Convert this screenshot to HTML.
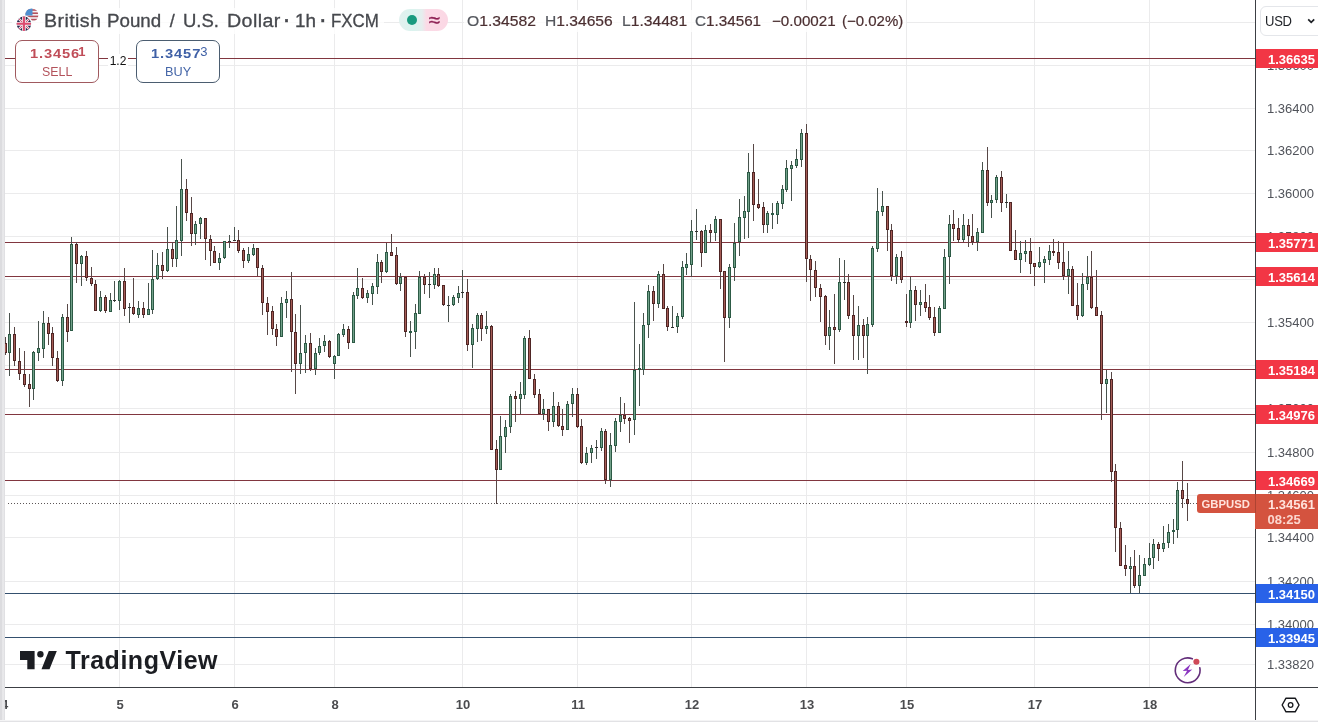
<!DOCTYPE html>
<html><head><meta charset="utf-8"><title>GBPUSD chart</title>
<style>
html,body{margin:0;padding:0;background:#fff;}
body{width:1318px;height:722px;position:relative;overflow:hidden;font-family:"Liberation Sans",sans-serif;}
.abs{position:absolute;}
.lbl{position:absolute;left:1256px;width:62px;height:19px;color:#fff;font-weight:bold;font-size:13px;line-height:21px;text-indent:12px;overflow:hidden;white-space:nowrap;}
.red{background:#f23645;}
.blue{background:#2962e8;}
.gl{position:absolute;left:1267px;font-size:13px;line-height:14px;height:14px;color:#50535a;white-space:nowrap;}
.tl{position:absolute;top:696.7px;width:40px;text-align:center;font-size:13px;font-weight:bold;line-height:16px;color:#4b4c4f;}
</style></head><body>

<svg width="1318" height="722" viewBox="0 0 1318 722" style="position:absolute;left:0;top:0" shape-rendering="crispEdges">
<rect x="5" y="22" width="1250" height="1" fill="#ebebec"/>
<rect x="5" y="65" width="1250" height="1" fill="#ebebec"/>
<rect x="5" y="108" width="1250" height="1" fill="#ebebec"/>
<rect x="5" y="150" width="1250" height="1" fill="#ebebec"/>
<rect x="5" y="193" width="1250" height="1" fill="#ebebec"/>
<rect x="5" y="236" width="1250" height="1" fill="#ebebec"/>
<rect x="5" y="279" width="1250" height="1" fill="#ebebec"/>
<rect x="5" y="322" width="1250" height="1" fill="#ebebec"/>
<rect x="5" y="365" width="1250" height="1" fill="#ebebec"/>
<rect x="5" y="408" width="1250" height="1" fill="#ebebec"/>
<rect x="5" y="452" width="1250" height="1" fill="#ebebec"/>
<rect x="5" y="495" width="1250" height="1" fill="#ebebec"/>
<rect x="5" y="537" width="1250" height="1" fill="#ebebec"/>
<rect x="5" y="581" width="1250" height="1" fill="#ebebec"/>
<rect x="5" y="624" width="1250" height="1" fill="#ebebec"/>
<rect x="5" y="664" width="1250" height="1" fill="#ebebec"/>
<rect x="119" y="0" width="1" height="687" fill="#ebebec"/>
<rect x="234" y="0" width="1" height="687" fill="#ebebec"/>
<rect x="334" y="0" width="1" height="687" fill="#ebebec"/>
<rect x="462" y="0" width="1" height="687" fill="#ebebec"/>
<rect x="577" y="0" width="1" height="687" fill="#ebebec"/>
<rect x="691" y="0" width="1" height="687" fill="#ebebec"/>
<rect x="806" y="0" width="1" height="687" fill="#ebebec"/>
<rect x="906" y="0" width="1" height="687" fill="#ebebec"/>
<rect x="1034" y="0" width="1" height="687" fill="#ebebec"/>
<rect x="1149" y="0" width="1" height="687" fill="#ebebec"/>
<rect x="5" y="58" width="1250" height="1" fill="#81363f"/>
<rect x="5" y="242" width="1250" height="1" fill="#81363f"/>
<rect x="5" y="276" width="1250" height="1" fill="#81363f"/>
<rect x="5" y="369" width="1250" height="1" fill="#81363f"/>
<rect x="5" y="414" width="1250" height="1" fill="#81363f"/>
<rect x="5" y="480" width="1250" height="1" fill="#81363f"/>
<rect x="5" y="593" width="1250" height="1" fill="#34506e"/>
<rect x="5" y="637" width="1250" height="1" fill="#34506e"/>
<line x1="8" y1="503.5" x2="1255" y2="503.5" stroke="#5c5657" stroke-width="1" stroke-dasharray="1 2"/>
<rect x="5" y="337" width="1" height="18" fill="#574746"/>
<rect x="4" y="343" width="3" height="10" fill="#4f2524"/>
<rect x="5" y="344" width="1" height="8" fill="#a55c56"/>
<rect x="9" y="313" width="1" height="63" fill="#49524d"/>
<rect x="8" y="334" width="3" height="19" fill="#2c5a45"/>
<rect x="9" y="335" width="1" height="17" fill="#72a18a"/>
<rect x="14" y="327" width="1" height="39" fill="#574746"/>
<rect x="13" y="334" width="3" height="27" fill="#4f2524"/>
<rect x="14" y="335" width="1" height="25" fill="#a55c56"/>
<rect x="19" y="348" width="1" height="32" fill="#574746"/>
<rect x="18" y="361" width="3" height="13" fill="#4f2524"/>
<rect x="19" y="362" width="1" height="11" fill="#a55c56"/>
<rect x="24" y="351" width="1" height="36" fill="#574746"/>
<rect x="23" y="374" width="3" height="11" fill="#4f2524"/>
<rect x="24" y="375" width="1" height="9" fill="#a55c56"/>
<rect x="29" y="374" width="1" height="33" fill="#574746"/>
<rect x="28" y="384" width="3" height="5" fill="#4f2524"/>
<rect x="29" y="385" width="1" height="3" fill="#a55c56"/>
<rect x="33" y="351" width="1" height="49" fill="#49524d"/>
<rect x="32" y="352" width="3" height="37" fill="#2c5a45"/>
<rect x="33" y="353" width="1" height="35" fill="#72a18a"/>
<rect x="38" y="321" width="1" height="40" fill="#49524d"/>
<rect x="37" y="348" width="3" height="5" fill="#2c5a45"/>
<rect x="38" y="349" width="1" height="3" fill="#72a18a"/>
<rect x="43" y="311" width="1" height="47" fill="#49524d"/>
<rect x="42" y="323" width="3" height="26" fill="#2c5a45"/>
<rect x="43" y="324" width="1" height="24" fill="#72a18a"/>
<rect x="48" y="317" width="1" height="28" fill="#574746"/>
<rect x="47" y="323" width="3" height="11" fill="#4f2524"/>
<rect x="48" y="324" width="1" height="9" fill="#a55c56"/>
<rect x="52" y="327" width="1" height="39" fill="#574746"/>
<rect x="51" y="333" width="3" height="25" fill="#4f2524"/>
<rect x="52" y="334" width="1" height="23" fill="#a55c56"/>
<rect x="57" y="351" width="1" height="31" fill="#574746"/>
<rect x="56" y="358" width="3" height="23" fill="#4f2524"/>
<rect x="57" y="359" width="1" height="21" fill="#a55c56"/>
<rect x="62" y="314" width="1" height="72" fill="#49524d"/>
<rect x="61" y="317" width="3" height="64" fill="#2c5a45"/>
<rect x="62" y="318" width="1" height="62" fill="#72a18a"/>
<rect x="67" y="304" width="1" height="38" fill="#574746"/>
<rect x="66" y="317" width="3" height="15" fill="#4f2524"/>
<rect x="67" y="318" width="1" height="13" fill="#a55c56"/>
<rect x="71" y="237" width="1" height="94" fill="#49524d"/>
<rect x="70" y="244" width="3" height="87" fill="#2c5a45"/>
<rect x="71" y="245" width="1" height="85" fill="#72a18a"/>
<rect x="76" y="242" width="1" height="41" fill="#574746"/>
<rect x="75" y="244" width="3" height="20" fill="#4f2524"/>
<rect x="76" y="245" width="1" height="18" fill="#a55c56"/>
<rect x="81" y="255" width="1" height="31" fill="#49524d"/>
<rect x="80" y="256" width="3" height="8" fill="#2c5a45"/>
<rect x="81" y="257" width="1" height="6" fill="#72a18a"/>
<rect x="86" y="251" width="1" height="30" fill="#574746"/>
<rect x="85" y="256" width="3" height="22" fill="#4f2524"/>
<rect x="86" y="257" width="1" height="20" fill="#a55c56"/>
<rect x="91" y="267" width="1" height="19" fill="#574746"/>
<rect x="90" y="278" width="3" height="6" fill="#4f2524"/>
<rect x="91" y="279" width="1" height="4" fill="#a55c56"/>
<rect x="95" y="280" width="1" height="31" fill="#574746"/>
<rect x="94" y="284" width="3" height="27" fill="#4f2524"/>
<rect x="95" y="285" width="1" height="25" fill="#a55c56"/>
<rect x="100" y="291" width="1" height="21" fill="#49524d"/>
<rect x="99" y="297" width="3" height="14" fill="#2c5a45"/>
<rect x="100" y="298" width="1" height="12" fill="#72a18a"/>
<rect x="105" y="295" width="1" height="18" fill="#574746"/>
<rect x="104" y="297" width="3" height="14" fill="#4f2524"/>
<rect x="105" y="298" width="1" height="12" fill="#a55c56"/>
<rect x="110" y="293" width="1" height="19" fill="#49524d"/>
<rect x="109" y="300" width="3" height="12" fill="#2c5a45"/>
<rect x="110" y="301" width="1" height="10" fill="#72a18a"/>
<rect x="114" y="281" width="1" height="21" fill="#49524d"/>
<rect x="113" y="300" width="3" height="1" fill="#30302f"/>
<rect x="119" y="280" width="1" height="30" fill="#49524d"/>
<rect x="118" y="281" width="3" height="20" fill="#2c5a45"/>
<rect x="119" y="282" width="1" height="18" fill="#72a18a"/>
<rect x="124" y="268" width="1" height="48" fill="#574746"/>
<rect x="123" y="281" width="3" height="28" fill="#4f2524"/>
<rect x="124" y="282" width="1" height="26" fill="#a55c56"/>
<rect x="129" y="303" width="1" height="20" fill="#49524d"/>
<rect x="128" y="307" width="3" height="1" fill="#30302f"/>
<rect x="133" y="278" width="1" height="37" fill="#574746"/>
<rect x="132" y="307" width="3" height="7" fill="#4f2524"/>
<rect x="133" y="308" width="1" height="5" fill="#a55c56"/>
<rect x="138" y="301" width="1" height="17" fill="#49524d"/>
<rect x="137" y="308" width="3" height="7" fill="#2c5a45"/>
<rect x="138" y="309" width="1" height="5" fill="#72a18a"/>
<rect x="143" y="302" width="1" height="16" fill="#574746"/>
<rect x="142" y="308" width="3" height="7" fill="#4f2524"/>
<rect x="143" y="309" width="1" height="5" fill="#a55c56"/>
<rect x="148" y="283" width="1" height="32" fill="#49524d"/>
<rect x="147" y="309" width="3" height="6" fill="#2c5a45"/>
<rect x="148" y="310" width="1" height="4" fill="#72a18a"/>
<rect x="152" y="250" width="1" height="64" fill="#49524d"/>
<rect x="151" y="279" width="3" height="31" fill="#2c5a45"/>
<rect x="152" y="280" width="1" height="29" fill="#72a18a"/>
<rect x="157" y="253" width="1" height="27" fill="#49524d"/>
<rect x="156" y="265" width="3" height="14" fill="#2c5a45"/>
<rect x="157" y="266" width="1" height="12" fill="#72a18a"/>
<rect x="162" y="252" width="1" height="27" fill="#574746"/>
<rect x="161" y="265" width="3" height="6" fill="#4f2524"/>
<rect x="162" y="266" width="1" height="4" fill="#a55c56"/>
<rect x="167" y="227" width="1" height="45" fill="#49524d"/>
<rect x="166" y="249" width="3" height="22" fill="#2c5a45"/>
<rect x="167" y="250" width="1" height="20" fill="#72a18a"/>
<rect x="172" y="242" width="1" height="25" fill="#574746"/>
<rect x="171" y="249" width="3" height="10" fill="#4f2524"/>
<rect x="172" y="250" width="1" height="8" fill="#a55c56"/>
<rect x="176" y="206" width="1" height="61" fill="#49524d"/>
<rect x="175" y="240" width="3" height="19" fill="#2c5a45"/>
<rect x="176" y="241" width="1" height="17" fill="#72a18a"/>
<rect x="181" y="159" width="1" height="97" fill="#49524d"/>
<rect x="180" y="189" width="3" height="52" fill="#2c5a45"/>
<rect x="181" y="190" width="1" height="50" fill="#72a18a"/>
<rect x="186" y="179" width="1" height="42" fill="#574746"/>
<rect x="185" y="189" width="3" height="24" fill="#4f2524"/>
<rect x="186" y="190" width="1" height="22" fill="#a55c56"/>
<rect x="191" y="197" width="1" height="49" fill="#574746"/>
<rect x="190" y="213" width="3" height="21" fill="#4f2524"/>
<rect x="191" y="214" width="1" height="19" fill="#a55c56"/>
<rect x="195" y="221" width="1" height="24" fill="#49524d"/>
<rect x="194" y="224" width="3" height="10" fill="#2c5a45"/>
<rect x="195" y="225" width="1" height="8" fill="#72a18a"/>
<rect x="200" y="217" width="1" height="22" fill="#49524d"/>
<rect x="199" y="218" width="3" height="6" fill="#2c5a45"/>
<rect x="200" y="219" width="1" height="4" fill="#72a18a"/>
<rect x="205" y="218" width="1" height="42" fill="#574746"/>
<rect x="204" y="218" width="3" height="21" fill="#4f2524"/>
<rect x="205" y="219" width="1" height="19" fill="#a55c56"/>
<rect x="210" y="235" width="1" height="31" fill="#574746"/>
<rect x="209" y="239" width="3" height="12" fill="#4f2524"/>
<rect x="210" y="240" width="1" height="10" fill="#a55c56"/>
<rect x="214" y="246" width="1" height="17" fill="#574746"/>
<rect x="213" y="251" width="3" height="12" fill="#4f2524"/>
<rect x="214" y="252" width="1" height="10" fill="#a55c56"/>
<rect x="219" y="253" width="1" height="17" fill="#49524d"/>
<rect x="218" y="258" width="3" height="5" fill="#2c5a45"/>
<rect x="219" y="259" width="1" height="3" fill="#72a18a"/>
<rect x="224" y="241" width="1" height="18" fill="#49524d"/>
<rect x="223" y="241" width="3" height="17" fill="#2c5a45"/>
<rect x="224" y="242" width="1" height="15" fill="#72a18a"/>
<rect x="229" y="235" width="1" height="13" fill="#49524d"/>
<rect x="228" y="241" width="3" height="1" fill="#30302f"/>
<rect x="234" y="227" width="1" height="14" fill="#49524d"/>
<rect x="233" y="240" width="3" height="1" fill="#30302f"/>
<rect x="238" y="230" width="1" height="23" fill="#574746"/>
<rect x="237" y="240" width="3" height="11" fill="#4f2524"/>
<rect x="238" y="241" width="1" height="9" fill="#a55c56"/>
<rect x="243" y="248" width="1" height="20" fill="#574746"/>
<rect x="242" y="250" width="3" height="11" fill="#4f2524"/>
<rect x="243" y="251" width="1" height="9" fill="#a55c56"/>
<rect x="248" y="247" width="1" height="16" fill="#49524d"/>
<rect x="247" y="254" width="3" height="7" fill="#2c5a45"/>
<rect x="248" y="255" width="1" height="5" fill="#72a18a"/>
<rect x="253" y="244" width="1" height="12" fill="#49524d"/>
<rect x="252" y="248" width="3" height="7" fill="#2c5a45"/>
<rect x="253" y="249" width="1" height="5" fill="#72a18a"/>
<rect x="257" y="248" width="1" height="28" fill="#574746"/>
<rect x="256" y="248" width="3" height="20" fill="#4f2524"/>
<rect x="257" y="249" width="1" height="18" fill="#a55c56"/>
<rect x="262" y="265" width="1" height="50" fill="#574746"/>
<rect x="261" y="268" width="3" height="35" fill="#4f2524"/>
<rect x="262" y="269" width="1" height="33" fill="#a55c56"/>
<rect x="267" y="297" width="1" height="38" fill="#574746"/>
<rect x="266" y="303" width="3" height="9" fill="#4f2524"/>
<rect x="267" y="304" width="1" height="7" fill="#a55c56"/>
<rect x="272" y="306" width="1" height="29" fill="#574746"/>
<rect x="271" y="311" width="3" height="18" fill="#4f2524"/>
<rect x="272" y="312" width="1" height="16" fill="#a55c56"/>
<rect x="276" y="324" width="1" height="22" fill="#574746"/>
<rect x="275" y="329" width="3" height="8" fill="#4f2524"/>
<rect x="276" y="330" width="1" height="6" fill="#a55c56"/>
<rect x="281" y="297" width="1" height="40" fill="#49524d"/>
<rect x="280" y="303" width="3" height="34" fill="#2c5a45"/>
<rect x="281" y="304" width="1" height="32" fill="#72a18a"/>
<rect x="286" y="291" width="1" height="27" fill="#49524d"/>
<rect x="285" y="299" width="3" height="4" fill="#2c5a45"/>
<rect x="286" y="300" width="1" height="2" fill="#72a18a"/>
<rect x="291" y="272" width="1" height="100" fill="#574746"/>
<rect x="290" y="299" width="3" height="33" fill="#4f2524"/>
<rect x="291" y="300" width="1" height="31" fill="#a55c56"/>
<rect x="295" y="314" width="1" height="80" fill="#574746"/>
<rect x="294" y="332" width="3" height="32" fill="#4f2524"/>
<rect x="295" y="333" width="1" height="30" fill="#a55c56"/>
<rect x="300" y="305" width="1" height="69" fill="#49524d"/>
<rect x="299" y="353" width="3" height="11" fill="#2c5a45"/>
<rect x="300" y="354" width="1" height="9" fill="#72a18a"/>
<rect x="305" y="335" width="1" height="38" fill="#49524d"/>
<rect x="304" y="343" width="3" height="10" fill="#2c5a45"/>
<rect x="305" y="344" width="1" height="8" fill="#72a18a"/>
<rect x="310" y="333" width="1" height="38" fill="#574746"/>
<rect x="309" y="343" width="3" height="26" fill="#4f2524"/>
<rect x="310" y="344" width="1" height="24" fill="#a55c56"/>
<rect x="315" y="348" width="1" height="27" fill="#49524d"/>
<rect x="314" y="353" width="3" height="16" fill="#2c5a45"/>
<rect x="315" y="354" width="1" height="14" fill="#72a18a"/>
<rect x="319" y="338" width="1" height="17" fill="#49524d"/>
<rect x="318" y="346" width="3" height="7" fill="#2c5a45"/>
<rect x="319" y="347" width="1" height="5" fill="#72a18a"/>
<rect x="324" y="335" width="1" height="17" fill="#49524d"/>
<rect x="323" y="341" width="3" height="5" fill="#2c5a45"/>
<rect x="324" y="342" width="1" height="3" fill="#72a18a"/>
<rect x="329" y="340" width="1" height="18" fill="#574746"/>
<rect x="328" y="341" width="3" height="16" fill="#4f2524"/>
<rect x="329" y="342" width="1" height="14" fill="#a55c56"/>
<rect x="334" y="355" width="1" height="24" fill="#49524d"/>
<rect x="333" y="356" width="3" height="8" fill="#2c5a45"/>
<rect x="334" y="357" width="1" height="6" fill="#72a18a"/>
<rect x="338" y="333" width="1" height="23" fill="#49524d"/>
<rect x="337" y="334" width="3" height="22" fill="#2c5a45"/>
<rect x="338" y="335" width="1" height="20" fill="#72a18a"/>
<rect x="343" y="324" width="1" height="13" fill="#49524d"/>
<rect x="342" y="329" width="3" height="6" fill="#2c5a45"/>
<rect x="343" y="330" width="1" height="4" fill="#72a18a"/>
<rect x="348" y="326" width="1" height="23" fill="#574746"/>
<rect x="347" y="329" width="3" height="14" fill="#4f2524"/>
<rect x="348" y="330" width="1" height="12" fill="#a55c56"/>
<rect x="353" y="292" width="1" height="51" fill="#49524d"/>
<rect x="352" y="295" width="3" height="48" fill="#2c5a45"/>
<rect x="353" y="296" width="1" height="46" fill="#72a18a"/>
<rect x="357" y="268" width="1" height="31" fill="#49524d"/>
<rect x="356" y="288" width="3" height="8" fill="#2c5a45"/>
<rect x="357" y="289" width="1" height="6" fill="#72a18a"/>
<rect x="362" y="278" width="1" height="21" fill="#574746"/>
<rect x="361" y="288" width="3" height="10" fill="#4f2524"/>
<rect x="362" y="289" width="1" height="8" fill="#a55c56"/>
<rect x="367" y="290" width="1" height="13" fill="#49524d"/>
<rect x="366" y="293" width="3" height="5" fill="#2c5a45"/>
<rect x="367" y="294" width="1" height="3" fill="#72a18a"/>
<rect x="372" y="283" width="1" height="22" fill="#49524d"/>
<rect x="371" y="286" width="3" height="8" fill="#2c5a45"/>
<rect x="372" y="287" width="1" height="6" fill="#72a18a"/>
<rect x="377" y="254" width="1" height="40" fill="#49524d"/>
<rect x="376" y="262" width="3" height="25" fill="#2c5a45"/>
<rect x="377" y="263" width="1" height="23" fill="#72a18a"/>
<rect x="381" y="260" width="1" height="23" fill="#574746"/>
<rect x="380" y="262" width="3" height="10" fill="#4f2524"/>
<rect x="381" y="263" width="1" height="8" fill="#a55c56"/>
<rect x="386" y="243" width="1" height="30" fill="#49524d"/>
<rect x="385" y="252" width="3" height="20" fill="#2c5a45"/>
<rect x="386" y="253" width="1" height="18" fill="#72a18a"/>
<rect x="391" y="234" width="1" height="22" fill="#574746"/>
<rect x="390" y="252" width="3" height="4" fill="#4f2524"/>
<rect x="391" y="253" width="1" height="2" fill="#a55c56"/>
<rect x="396" y="247" width="1" height="38" fill="#574746"/>
<rect x="395" y="255" width="3" height="29" fill="#4f2524"/>
<rect x="396" y="256" width="1" height="27" fill="#a55c56"/>
<rect x="400" y="273" width="1" height="18" fill="#49524d"/>
<rect x="399" y="277" width="3" height="7" fill="#2c5a45"/>
<rect x="400" y="278" width="1" height="5" fill="#72a18a"/>
<rect x="405" y="277" width="1" height="60" fill="#574746"/>
<rect x="404" y="277" width="3" height="55" fill="#4f2524"/>
<rect x="405" y="278" width="1" height="53" fill="#a55c56"/>
<rect x="410" y="321" width="1" height="36" fill="#49524d"/>
<rect x="409" y="331" width="3" height="2" fill="#2c5a45"/>
<rect x="415" y="304" width="1" height="45" fill="#49524d"/>
<rect x="414" y="313" width="3" height="19" fill="#2c5a45"/>
<rect x="415" y="314" width="1" height="17" fill="#72a18a"/>
<rect x="419" y="271" width="1" height="43" fill="#49524d"/>
<rect x="418" y="277" width="3" height="37" fill="#2c5a45"/>
<rect x="419" y="278" width="1" height="35" fill="#72a18a"/>
<rect x="424" y="274" width="1" height="20" fill="#574746"/>
<rect x="423" y="277" width="3" height="8" fill="#4f2524"/>
<rect x="424" y="278" width="1" height="6" fill="#a55c56"/>
<rect x="429" y="272" width="1" height="26" fill="#49524d"/>
<rect x="428" y="284" width="3" height="1" fill="#30302f"/>
<rect x="434" y="268" width="1" height="21" fill="#49524d"/>
<rect x="433" y="274" width="3" height="11" fill="#2c5a45"/>
<rect x="434" y="275" width="1" height="9" fill="#72a18a"/>
<rect x="438" y="268" width="1" height="19" fill="#574746"/>
<rect x="437" y="274" width="3" height="12" fill="#4f2524"/>
<rect x="438" y="275" width="1" height="10" fill="#a55c56"/>
<rect x="443" y="285" width="1" height="21" fill="#574746"/>
<rect x="442" y="285" width="3" height="20" fill="#4f2524"/>
<rect x="443" y="286" width="1" height="18" fill="#a55c56"/>
<rect x="448" y="296" width="1" height="26" fill="#49524d"/>
<rect x="447" y="305" width="3" height="1" fill="#30302f"/>
<rect x="453" y="295" width="1" height="11" fill="#49524d"/>
<rect x="452" y="297" width="3" height="8" fill="#2c5a45"/>
<rect x="453" y="298" width="1" height="6" fill="#72a18a"/>
<rect x="458" y="286" width="1" height="17" fill="#49524d"/>
<rect x="457" y="293" width="3" height="5" fill="#2c5a45"/>
<rect x="458" y="294" width="1" height="3" fill="#72a18a"/>
<rect x="462" y="270" width="1" height="28" fill="#49524d"/>
<rect x="461" y="292" width="3" height="1" fill="#30302f"/>
<rect x="467" y="279" width="1" height="72" fill="#574746"/>
<rect x="466" y="292" width="3" height="53" fill="#4f2524"/>
<rect x="467" y="293" width="1" height="51" fill="#a55c56"/>
<rect x="472" y="324" width="1" height="44" fill="#49524d"/>
<rect x="471" y="328" width="3" height="17" fill="#2c5a45"/>
<rect x="472" y="329" width="1" height="15" fill="#72a18a"/>
<rect x="477" y="313" width="1" height="29" fill="#49524d"/>
<rect x="476" y="315" width="3" height="14" fill="#2c5a45"/>
<rect x="477" y="316" width="1" height="12" fill="#72a18a"/>
<rect x="481" y="313" width="1" height="28" fill="#574746"/>
<rect x="480" y="315" width="3" height="14" fill="#4f2524"/>
<rect x="481" y="316" width="1" height="12" fill="#a55c56"/>
<rect x="486" y="311" width="1" height="23" fill="#49524d"/>
<rect x="485" y="326" width="3" height="3" fill="#2c5a45"/>
<rect x="486" y="327" width="1" height="1" fill="#72a18a"/>
<rect x="491" y="325" width="1" height="125" fill="#574746"/>
<rect x="490" y="326" width="3" height="124" fill="#4f2524"/>
<rect x="491" y="327" width="1" height="122" fill="#a55c56"/>
<rect x="496" y="440" width="1" height="64" fill="#574746"/>
<rect x="495" y="449" width="3" height="21" fill="#4f2524"/>
<rect x="496" y="450" width="1" height="19" fill="#a55c56"/>
<rect x="500" y="416" width="1" height="54" fill="#49524d"/>
<rect x="499" y="436" width="3" height="34" fill="#2c5a45"/>
<rect x="500" y="437" width="1" height="32" fill="#72a18a"/>
<rect x="505" y="420" width="1" height="33" fill="#49524d"/>
<rect x="504" y="427" width="3" height="10" fill="#2c5a45"/>
<rect x="505" y="428" width="1" height="8" fill="#72a18a"/>
<rect x="510" y="394" width="1" height="39" fill="#49524d"/>
<rect x="509" y="396" width="3" height="31" fill="#2c5a45"/>
<rect x="510" y="397" width="1" height="29" fill="#72a18a"/>
<rect x="515" y="391" width="1" height="31" fill="#574746"/>
<rect x="514" y="396" width="3" height="3" fill="#4f2524"/>
<rect x="515" y="397" width="1" height="1" fill="#a55c56"/>
<rect x="520" y="382" width="1" height="32" fill="#49524d"/>
<rect x="519" y="394" width="3" height="5" fill="#2c5a45"/>
<rect x="520" y="395" width="1" height="3" fill="#72a18a"/>
<rect x="524" y="336" width="1" height="63" fill="#49524d"/>
<rect x="523" y="338" width="3" height="57" fill="#2c5a45"/>
<rect x="524" y="339" width="1" height="55" fill="#72a18a"/>
<rect x="529" y="330" width="1" height="49" fill="#574746"/>
<rect x="528" y="338" width="3" height="41" fill="#4f2524"/>
<rect x="529" y="339" width="1" height="39" fill="#a55c56"/>
<rect x="534" y="374" width="1" height="24" fill="#574746"/>
<rect x="533" y="379" width="3" height="16" fill="#4f2524"/>
<rect x="534" y="380" width="1" height="14" fill="#a55c56"/>
<rect x="539" y="389" width="1" height="25" fill="#574746"/>
<rect x="538" y="394" width="3" height="20" fill="#4f2524"/>
<rect x="539" y="395" width="1" height="18" fill="#a55c56"/>
<rect x="543" y="399" width="1" height="21" fill="#49524d"/>
<rect x="542" y="409" width="3" height="5" fill="#2c5a45"/>
<rect x="543" y="410" width="1" height="3" fill="#72a18a"/>
<rect x="548" y="409" width="1" height="22" fill="#574746"/>
<rect x="547" y="409" width="3" height="13" fill="#4f2524"/>
<rect x="548" y="410" width="1" height="11" fill="#a55c56"/>
<rect x="553" y="392" width="1" height="35" fill="#49524d"/>
<rect x="552" y="406" width="3" height="16" fill="#2c5a45"/>
<rect x="553" y="407" width="1" height="14" fill="#72a18a"/>
<rect x="558" y="402" width="1" height="25" fill="#574746"/>
<rect x="557" y="406" width="3" height="20" fill="#4f2524"/>
<rect x="558" y="407" width="1" height="18" fill="#a55c56"/>
<rect x="562" y="409" width="1" height="27" fill="#574746"/>
<rect x="561" y="426" width="3" height="4" fill="#4f2524"/>
<rect x="562" y="427" width="1" height="2" fill="#a55c56"/>
<rect x="567" y="401" width="1" height="29" fill="#49524d"/>
<rect x="566" y="404" width="3" height="26" fill="#2c5a45"/>
<rect x="567" y="405" width="1" height="24" fill="#72a18a"/>
<rect x="572" y="388" width="1" height="29" fill="#49524d"/>
<rect x="571" y="394" width="3" height="10" fill="#2c5a45"/>
<rect x="572" y="395" width="1" height="8" fill="#72a18a"/>
<rect x="577" y="388" width="1" height="40" fill="#574746"/>
<rect x="576" y="394" width="3" height="33" fill="#4f2524"/>
<rect x="577" y="395" width="1" height="31" fill="#a55c56"/>
<rect x="581" y="419" width="1" height="45" fill="#574746"/>
<rect x="580" y="426" width="3" height="37" fill="#4f2524"/>
<rect x="581" y="427" width="1" height="35" fill="#a55c56"/>
<rect x="586" y="447" width="1" height="18" fill="#49524d"/>
<rect x="585" y="453" width="3" height="10" fill="#2c5a45"/>
<rect x="586" y="454" width="1" height="8" fill="#72a18a"/>
<rect x="591" y="445" width="1" height="18" fill="#49524d"/>
<rect x="590" y="448" width="3" height="5" fill="#2c5a45"/>
<rect x="591" y="449" width="1" height="3" fill="#72a18a"/>
<rect x="596" y="440" width="1" height="19" fill="#49524d"/>
<rect x="595" y="447" width="3" height="1" fill="#30302f"/>
<rect x="601" y="428" width="1" height="23" fill="#49524d"/>
<rect x="600" y="431" width="3" height="17" fill="#2c5a45"/>
<rect x="601" y="432" width="1" height="15" fill="#72a18a"/>
<rect x="605" y="429" width="1" height="55" fill="#574746"/>
<rect x="604" y="431" width="3" height="49" fill="#4f2524"/>
<rect x="605" y="432" width="1" height="47" fill="#a55c56"/>
<rect x="610" y="433" width="1" height="54" fill="#49524d"/>
<rect x="609" y="445" width="3" height="35" fill="#2c5a45"/>
<rect x="610" y="446" width="1" height="33" fill="#72a18a"/>
<rect x="615" y="418" width="1" height="34" fill="#49524d"/>
<rect x="614" y="421" width="3" height="25" fill="#2c5a45"/>
<rect x="615" y="422" width="1" height="23" fill="#72a18a"/>
<rect x="620" y="397" width="1" height="35" fill="#49524d"/>
<rect x="619" y="415" width="3" height="7" fill="#2c5a45"/>
<rect x="620" y="416" width="1" height="5" fill="#72a18a"/>
<rect x="624" y="403" width="1" height="21" fill="#574746"/>
<rect x="623" y="415" width="3" height="4" fill="#4f2524"/>
<rect x="624" y="416" width="1" height="2" fill="#a55c56"/>
<rect x="629" y="417" width="1" height="26" fill="#574746"/>
<rect x="628" y="418" width="3" height="3" fill="#4f2524"/>
<rect x="629" y="419" width="1" height="1" fill="#a55c56"/>
<rect x="634" y="302" width="1" height="133" fill="#49524d"/>
<rect x="633" y="370" width="3" height="50" fill="#2c5a45"/>
<rect x="634" y="371" width="1" height="48" fill="#72a18a"/>
<rect x="639" y="344" width="1" height="62" fill="#49524d"/>
<rect x="638" y="368" width="3" height="2" fill="#2c5a45"/>
<rect x="643" y="313" width="1" height="62" fill="#49524d"/>
<rect x="642" y="325" width="3" height="45" fill="#2c5a45"/>
<rect x="643" y="326" width="1" height="43" fill="#72a18a"/>
<rect x="648" y="285" width="1" height="53" fill="#49524d"/>
<rect x="647" y="291" width="3" height="34" fill="#2c5a45"/>
<rect x="648" y="292" width="1" height="32" fill="#72a18a"/>
<rect x="653" y="286" width="1" height="35" fill="#574746"/>
<rect x="652" y="291" width="3" height="13" fill="#4f2524"/>
<rect x="653" y="292" width="1" height="11" fill="#a55c56"/>
<rect x="658" y="271" width="1" height="37" fill="#49524d"/>
<rect x="657" y="274" width="3" height="30" fill="#2c5a45"/>
<rect x="658" y="275" width="1" height="28" fill="#72a18a"/>
<rect x="663" y="264" width="1" height="45" fill="#574746"/>
<rect x="662" y="274" width="3" height="35" fill="#4f2524"/>
<rect x="663" y="275" width="1" height="33" fill="#a55c56"/>
<rect x="667" y="306" width="1" height="25" fill="#574746"/>
<rect x="666" y="308" width="3" height="19" fill="#4f2524"/>
<rect x="667" y="309" width="1" height="17" fill="#a55c56"/>
<rect x="672" y="306" width="1" height="22" fill="#49524d"/>
<rect x="671" y="327" width="3" height="1" fill="#30302f"/>
<rect x="677" y="313" width="1" height="20" fill="#49524d"/>
<rect x="676" y="316" width="3" height="11" fill="#2c5a45"/>
<rect x="677" y="317" width="1" height="9" fill="#72a18a"/>
<rect x="682" y="261" width="1" height="58" fill="#49524d"/>
<rect x="681" y="267" width="3" height="50" fill="#2c5a45"/>
<rect x="682" y="268" width="1" height="48" fill="#72a18a"/>
<rect x="686" y="253" width="1" height="22" fill="#49524d"/>
<rect x="685" y="264" width="3" height="4" fill="#2c5a45"/>
<rect x="686" y="265" width="1" height="2" fill="#72a18a"/>
<rect x="691" y="220" width="1" height="57" fill="#49524d"/>
<rect x="690" y="231" width="3" height="34" fill="#2c5a45"/>
<rect x="691" y="232" width="1" height="32" fill="#72a18a"/>
<rect x="696" y="209" width="1" height="31" fill="#49524d"/>
<rect x="695" y="231" width="3" height="1" fill="#30302f"/>
<rect x="701" y="230" width="1" height="37" fill="#574746"/>
<rect x="700" y="231" width="3" height="22" fill="#4f2524"/>
<rect x="701" y="232" width="1" height="20" fill="#a55c56"/>
<rect x="705" y="225" width="1" height="28" fill="#49524d"/>
<rect x="704" y="230" width="3" height="23" fill="#2c5a45"/>
<rect x="705" y="231" width="1" height="21" fill="#72a18a"/>
<rect x="710" y="224" width="1" height="19" fill="#574746"/>
<rect x="709" y="230" width="3" height="3" fill="#4f2524"/>
<rect x="710" y="231" width="1" height="1" fill="#a55c56"/>
<rect x="715" y="216" width="1" height="25" fill="#49524d"/>
<rect x="714" y="219" width="3" height="14" fill="#2c5a45"/>
<rect x="715" y="220" width="1" height="12" fill="#72a18a"/>
<rect x="720" y="219" width="1" height="70" fill="#574746"/>
<rect x="719" y="219" width="3" height="53" fill="#4f2524"/>
<rect x="720" y="220" width="1" height="51" fill="#a55c56"/>
<rect x="724" y="271" width="1" height="91" fill="#574746"/>
<rect x="723" y="271" width="3" height="47" fill="#4f2524"/>
<rect x="724" y="272" width="1" height="45" fill="#a55c56"/>
<rect x="729" y="264" width="1" height="64" fill="#49524d"/>
<rect x="728" y="267" width="3" height="51" fill="#2c5a45"/>
<rect x="729" y="268" width="1" height="49" fill="#72a18a"/>
<rect x="734" y="223" width="1" height="58" fill="#49524d"/>
<rect x="733" y="243" width="3" height="25" fill="#2c5a45"/>
<rect x="734" y="244" width="1" height="23" fill="#72a18a"/>
<rect x="739" y="199" width="1" height="57" fill="#49524d"/>
<rect x="738" y="217" width="3" height="25" fill="#2c5a45"/>
<rect x="739" y="218" width="1" height="23" fill="#72a18a"/>
<rect x="744" y="196" width="1" height="43" fill="#49524d"/>
<rect x="743" y="211" width="3" height="7" fill="#2c5a45"/>
<rect x="744" y="212" width="1" height="5" fill="#72a18a"/>
<rect x="748" y="153" width="1" height="85" fill="#49524d"/>
<rect x="747" y="172" width="3" height="40" fill="#2c5a45"/>
<rect x="748" y="173" width="1" height="38" fill="#72a18a"/>
<rect x="753" y="144" width="1" height="77" fill="#574746"/>
<rect x="752" y="172" width="3" height="33" fill="#4f2524"/>
<rect x="753" y="173" width="1" height="31" fill="#a55c56"/>
<rect x="758" y="179" width="1" height="30" fill="#574746"/>
<rect x="757" y="204" width="3" height="4" fill="#4f2524"/>
<rect x="758" y="205" width="1" height="2" fill="#a55c56"/>
<rect x="763" y="202" width="1" height="31" fill="#574746"/>
<rect x="762" y="207" width="3" height="18" fill="#4f2524"/>
<rect x="763" y="208" width="1" height="16" fill="#a55c56"/>
<rect x="767" y="211" width="1" height="22" fill="#49524d"/>
<rect x="766" y="213" width="3" height="12" fill="#2c5a45"/>
<rect x="767" y="214" width="1" height="10" fill="#72a18a"/>
<rect x="772" y="203" width="1" height="26" fill="#49524d"/>
<rect x="771" y="213" width="3" height="2" fill="#2c5a45"/>
<rect x="777" y="201" width="1" height="23" fill="#49524d"/>
<rect x="776" y="203" width="3" height="12" fill="#2c5a45"/>
<rect x="777" y="204" width="1" height="10" fill="#72a18a"/>
<rect x="782" y="185" width="1" height="24" fill="#49524d"/>
<rect x="781" y="189" width="3" height="15" fill="#2c5a45"/>
<rect x="782" y="190" width="1" height="13" fill="#72a18a"/>
<rect x="786" y="160" width="1" height="32" fill="#49524d"/>
<rect x="785" y="168" width="3" height="22" fill="#2c5a45"/>
<rect x="786" y="169" width="1" height="20" fill="#72a18a"/>
<rect x="791" y="161" width="1" height="40" fill="#49524d"/>
<rect x="790" y="165" width="3" height="4" fill="#2c5a45"/>
<rect x="791" y="166" width="1" height="2" fill="#72a18a"/>
<rect x="796" y="149" width="1" height="19" fill="#49524d"/>
<rect x="795" y="159" width="3" height="7" fill="#2c5a45"/>
<rect x="796" y="160" width="1" height="5" fill="#72a18a"/>
<rect x="801" y="129" width="1" height="38" fill="#49524d"/>
<rect x="800" y="133" width="3" height="27" fill="#2c5a45"/>
<rect x="801" y="134" width="1" height="25" fill="#72a18a"/>
<rect x="806" y="124" width="1" height="158" fill="#574746"/>
<rect x="805" y="133" width="3" height="126" fill="#4f2524"/>
<rect x="806" y="134" width="1" height="124" fill="#a55c56"/>
<rect x="810" y="255" width="1" height="46" fill="#574746"/>
<rect x="809" y="259" width="3" height="11" fill="#4f2524"/>
<rect x="810" y="260" width="1" height="9" fill="#a55c56"/>
<rect x="815" y="261" width="1" height="36" fill="#574746"/>
<rect x="814" y="270" width="3" height="18" fill="#4f2524"/>
<rect x="815" y="271" width="1" height="16" fill="#a55c56"/>
<rect x="820" y="284" width="1" height="38" fill="#574746"/>
<rect x="819" y="288" width="3" height="9" fill="#4f2524"/>
<rect x="820" y="289" width="1" height="7" fill="#a55c56"/>
<rect x="825" y="295" width="1" height="50" fill="#574746"/>
<rect x="824" y="296" width="3" height="40" fill="#4f2524"/>
<rect x="825" y="297" width="1" height="38" fill="#a55c56"/>
<rect x="829" y="310" width="1" height="40" fill="#49524d"/>
<rect x="828" y="327" width="3" height="9" fill="#2c5a45"/>
<rect x="829" y="328" width="1" height="7" fill="#72a18a"/>
<rect x="834" y="294" width="1" height="70" fill="#574746"/>
<rect x="833" y="327" width="3" height="3" fill="#4f2524"/>
<rect x="834" y="328" width="1" height="1" fill="#a55c56"/>
<rect x="839" y="258" width="1" height="74" fill="#49524d"/>
<rect x="838" y="282" width="3" height="48" fill="#2c5a45"/>
<rect x="839" y="283" width="1" height="46" fill="#72a18a"/>
<rect x="844" y="260" width="1" height="40" fill="#49524d"/>
<rect x="843" y="282" width="3" height="1" fill="#30302f"/>
<rect x="848" y="274" width="1" height="45" fill="#574746"/>
<rect x="847" y="282" width="3" height="34" fill="#4f2524"/>
<rect x="848" y="283" width="1" height="32" fill="#a55c56"/>
<rect x="853" y="295" width="1" height="65" fill="#574746"/>
<rect x="852" y="315" width="3" height="21" fill="#4f2524"/>
<rect x="853" y="316" width="1" height="19" fill="#a55c56"/>
<rect x="858" y="306" width="1" height="54" fill="#49524d"/>
<rect x="857" y="325" width="3" height="11" fill="#2c5a45"/>
<rect x="858" y="326" width="1" height="9" fill="#72a18a"/>
<rect x="863" y="319" width="1" height="39" fill="#574746"/>
<rect x="862" y="325" width="3" height="11" fill="#4f2524"/>
<rect x="863" y="326" width="1" height="9" fill="#a55c56"/>
<rect x="867" y="317" width="1" height="57" fill="#49524d"/>
<rect x="866" y="324" width="3" height="12" fill="#2c5a45"/>
<rect x="867" y="325" width="1" height="10" fill="#72a18a"/>
<rect x="872" y="246" width="1" height="81" fill="#49524d"/>
<rect x="871" y="248" width="3" height="77" fill="#2c5a45"/>
<rect x="872" y="249" width="1" height="75" fill="#72a18a"/>
<rect x="877" y="188" width="1" height="64" fill="#49524d"/>
<rect x="876" y="211" width="3" height="38" fill="#2c5a45"/>
<rect x="877" y="212" width="1" height="36" fill="#72a18a"/>
<rect x="882" y="191" width="1" height="25" fill="#49524d"/>
<rect x="881" y="206" width="3" height="6" fill="#2c5a45"/>
<rect x="882" y="207" width="1" height="4" fill="#72a18a"/>
<rect x="887" y="206" width="1" height="45" fill="#574746"/>
<rect x="886" y="206" width="3" height="24" fill="#4f2524"/>
<rect x="887" y="207" width="1" height="22" fill="#a55c56"/>
<rect x="891" y="224" width="1" height="57" fill="#574746"/>
<rect x="890" y="230" width="3" height="46" fill="#4f2524"/>
<rect x="891" y="231" width="1" height="44" fill="#a55c56"/>
<rect x="896" y="254" width="1" height="30" fill="#49524d"/>
<rect x="895" y="257" width="3" height="19" fill="#2c5a45"/>
<rect x="896" y="258" width="1" height="17" fill="#72a18a"/>
<rect x="901" y="251" width="1" height="32" fill="#574746"/>
<rect x="900" y="257" width="3" height="23" fill="#4f2524"/>
<rect x="901" y="258" width="1" height="21" fill="#a55c56"/>
<rect x="906" y="294" width="1" height="33" fill="#574746"/>
<rect x="905" y="321" width="3" height="2" fill="#4f2524"/>
<rect x="910" y="277" width="1" height="51" fill="#49524d"/>
<rect x="909" y="290" width="3" height="33" fill="#2c5a45"/>
<rect x="910" y="291" width="1" height="31" fill="#72a18a"/>
<rect x="915" y="286" width="1" height="35" fill="#574746"/>
<rect x="914" y="290" width="3" height="15" fill="#4f2524"/>
<rect x="915" y="291" width="1" height="13" fill="#a55c56"/>
<rect x="920" y="290" width="1" height="26" fill="#49524d"/>
<rect x="919" y="302" width="3" height="3" fill="#2c5a45"/>
<rect x="920" y="303" width="1" height="1" fill="#72a18a"/>
<rect x="925" y="284" width="1" height="28" fill="#574746"/>
<rect x="924" y="302" width="3" height="6" fill="#4f2524"/>
<rect x="925" y="303" width="1" height="4" fill="#a55c56"/>
<rect x="929" y="295" width="1" height="25" fill="#574746"/>
<rect x="928" y="307" width="3" height="11" fill="#4f2524"/>
<rect x="929" y="308" width="1" height="9" fill="#a55c56"/>
<rect x="934" y="307" width="1" height="29" fill="#574746"/>
<rect x="933" y="317" width="3" height="16" fill="#4f2524"/>
<rect x="934" y="318" width="1" height="14" fill="#a55c56"/>
<rect x="939" y="306" width="1" height="27" fill="#49524d"/>
<rect x="938" y="308" width="3" height="25" fill="#2c5a45"/>
<rect x="939" y="309" width="1" height="23" fill="#72a18a"/>
<rect x="944" y="249" width="1" height="60" fill="#49524d"/>
<rect x="943" y="257" width="3" height="52" fill="#2c5a45"/>
<rect x="944" y="258" width="1" height="50" fill="#72a18a"/>
<rect x="949" y="215" width="1" height="69" fill="#49524d"/>
<rect x="948" y="224" width="3" height="33" fill="#2c5a45"/>
<rect x="949" y="225" width="1" height="31" fill="#72a18a"/>
<rect x="953" y="210" width="1" height="31" fill="#574746"/>
<rect x="952" y="224" width="3" height="5" fill="#4f2524"/>
<rect x="953" y="225" width="1" height="3" fill="#a55c56"/>
<rect x="958" y="218" width="1" height="25" fill="#574746"/>
<rect x="957" y="228" width="3" height="12" fill="#4f2524"/>
<rect x="958" y="229" width="1" height="10" fill="#a55c56"/>
<rect x="963" y="214" width="1" height="28" fill="#49524d"/>
<rect x="962" y="225" width="3" height="15" fill="#2c5a45"/>
<rect x="963" y="226" width="1" height="13" fill="#72a18a"/>
<rect x="968" y="219" width="1" height="28" fill="#574746"/>
<rect x="967" y="225" width="3" height="11" fill="#4f2524"/>
<rect x="968" y="226" width="1" height="9" fill="#a55c56"/>
<rect x="972" y="214" width="1" height="31" fill="#574746"/>
<rect x="971" y="236" width="3" height="6" fill="#4f2524"/>
<rect x="972" y="237" width="1" height="4" fill="#a55c56"/>
<rect x="977" y="228" width="1" height="23" fill="#49524d"/>
<rect x="976" y="232" width="3" height="10" fill="#2c5a45"/>
<rect x="977" y="233" width="1" height="8" fill="#72a18a"/>
<rect x="982" y="162" width="1" height="71" fill="#49524d"/>
<rect x="981" y="170" width="3" height="63" fill="#2c5a45"/>
<rect x="982" y="171" width="1" height="61" fill="#72a18a"/>
<rect x="987" y="147" width="1" height="59" fill="#574746"/>
<rect x="986" y="170" width="3" height="33" fill="#4f2524"/>
<rect x="987" y="171" width="1" height="31" fill="#a55c56"/>
<rect x="991" y="195" width="1" height="23" fill="#49524d"/>
<rect x="990" y="200" width="3" height="3" fill="#2c5a45"/>
<rect x="991" y="201" width="1" height="1" fill="#72a18a"/>
<rect x="996" y="175" width="1" height="28" fill="#49524d"/>
<rect x="995" y="177" width="3" height="23" fill="#2c5a45"/>
<rect x="996" y="178" width="1" height="21" fill="#72a18a"/>
<rect x="1001" y="171" width="1" height="41" fill="#574746"/>
<rect x="1000" y="177" width="3" height="26" fill="#4f2524"/>
<rect x="1001" y="178" width="1" height="24" fill="#a55c56"/>
<rect x="1006" y="194" width="1" height="14" fill="#49524d"/>
<rect x="1005" y="202" width="3" height="1" fill="#30302f"/>
<rect x="1010" y="202" width="1" height="49" fill="#574746"/>
<rect x="1009" y="202" width="3" height="49" fill="#4f2524"/>
<rect x="1010" y="203" width="1" height="47" fill="#a55c56"/>
<rect x="1015" y="230" width="1" height="30" fill="#574746"/>
<rect x="1014" y="250" width="3" height="10" fill="#4f2524"/>
<rect x="1015" y="251" width="1" height="8" fill="#a55c56"/>
<rect x="1020" y="241" width="1" height="32" fill="#49524d"/>
<rect x="1019" y="253" width="3" height="7" fill="#2c5a45"/>
<rect x="1020" y="254" width="1" height="5" fill="#72a18a"/>
<rect x="1025" y="240" width="1" height="22" fill="#49524d"/>
<rect x="1024" y="251" width="3" height="3" fill="#2c5a45"/>
<rect x="1025" y="252" width="1" height="1" fill="#72a18a"/>
<rect x="1030" y="238" width="1" height="36" fill="#574746"/>
<rect x="1029" y="251" width="3" height="13" fill="#4f2524"/>
<rect x="1030" y="252" width="1" height="11" fill="#a55c56"/>
<rect x="1034" y="263" width="1" height="23" fill="#574746"/>
<rect x="1033" y="263" width="3" height="4" fill="#4f2524"/>
<rect x="1034" y="264" width="1" height="2" fill="#a55c56"/>
<rect x="1039" y="247" width="1" height="21" fill="#49524d"/>
<rect x="1038" y="262" width="3" height="5" fill="#2c5a45"/>
<rect x="1039" y="263" width="1" height="3" fill="#72a18a"/>
<rect x="1044" y="256" width="1" height="27" fill="#49524d"/>
<rect x="1043" y="259" width="3" height="4" fill="#2c5a45"/>
<rect x="1044" y="260" width="1" height="2" fill="#72a18a"/>
<rect x="1049" y="245" width="1" height="20" fill="#49524d"/>
<rect x="1048" y="251" width="3" height="9" fill="#2c5a45"/>
<rect x="1049" y="252" width="1" height="7" fill="#72a18a"/>
<rect x="1053" y="239" width="1" height="17" fill="#574746"/>
<rect x="1052" y="251" width="3" height="2" fill="#4f2524"/>
<rect x="1058" y="241" width="1" height="28" fill="#574746"/>
<rect x="1057" y="252" width="3" height="11" fill="#4f2524"/>
<rect x="1058" y="253" width="1" height="9" fill="#a55c56"/>
<rect x="1063" y="243" width="1" height="37" fill="#574746"/>
<rect x="1062" y="262" width="3" height="14" fill="#4f2524"/>
<rect x="1063" y="263" width="1" height="12" fill="#a55c56"/>
<rect x="1068" y="251" width="1" height="43" fill="#49524d"/>
<rect x="1067" y="269" width="3" height="7" fill="#2c5a45"/>
<rect x="1068" y="270" width="1" height="5" fill="#72a18a"/>
<rect x="1072" y="266" width="1" height="40" fill="#574746"/>
<rect x="1071" y="269" width="3" height="37" fill="#4f2524"/>
<rect x="1072" y="270" width="1" height="35" fill="#a55c56"/>
<rect x="1077" y="283" width="1" height="37" fill="#574746"/>
<rect x="1076" y="305" width="3" height="11" fill="#4f2524"/>
<rect x="1077" y="306" width="1" height="9" fill="#a55c56"/>
<rect x="1082" y="273" width="1" height="44" fill="#49524d"/>
<rect x="1081" y="284" width="3" height="32" fill="#2c5a45"/>
<rect x="1082" y="285" width="1" height="30" fill="#72a18a"/>
<rect x="1087" y="256" width="1" height="34" fill="#49524d"/>
<rect x="1086" y="277" width="3" height="7" fill="#2c5a45"/>
<rect x="1087" y="278" width="1" height="5" fill="#72a18a"/>
<rect x="1091" y="251" width="1" height="58" fill="#574746"/>
<rect x="1090" y="277" width="3" height="31" fill="#4f2524"/>
<rect x="1091" y="278" width="1" height="29" fill="#a55c56"/>
<rect x="1096" y="270" width="1" height="46" fill="#574746"/>
<rect x="1095" y="307" width="3" height="9" fill="#4f2524"/>
<rect x="1096" y="308" width="1" height="7" fill="#a55c56"/>
<rect x="1101" y="311" width="1" height="109" fill="#574746"/>
<rect x="1100" y="315" width="3" height="69" fill="#4f2524"/>
<rect x="1101" y="316" width="1" height="67" fill="#a55c56"/>
<rect x="1106" y="370" width="1" height="43" fill="#49524d"/>
<rect x="1105" y="379" width="3" height="5" fill="#2c5a45"/>
<rect x="1106" y="380" width="1" height="3" fill="#72a18a"/>
<rect x="1111" y="372" width="1" height="110" fill="#574746"/>
<rect x="1110" y="379" width="3" height="93" fill="#4f2524"/>
<rect x="1111" y="380" width="1" height="91" fill="#a55c56"/>
<rect x="1115" y="464" width="1" height="88" fill="#574746"/>
<rect x="1114" y="471" width="3" height="57" fill="#4f2524"/>
<rect x="1115" y="472" width="1" height="55" fill="#a55c56"/>
<rect x="1120" y="522" width="1" height="44" fill="#574746"/>
<rect x="1119" y="528" width="3" height="38" fill="#4f2524"/>
<rect x="1120" y="529" width="1" height="36" fill="#a55c56"/>
<rect x="1125" y="545" width="1" height="31" fill="#574746"/>
<rect x="1124" y="565" width="3" height="4" fill="#4f2524"/>
<rect x="1125" y="566" width="1" height="2" fill="#a55c56"/>
<rect x="1130" y="557" width="1" height="36" fill="#49524d"/>
<rect x="1129" y="566" width="3" height="3" fill="#2c5a45"/>
<rect x="1130" y="567" width="1" height="1" fill="#72a18a"/>
<rect x="1134" y="550" width="1" height="38" fill="#574746"/>
<rect x="1133" y="566" width="3" height="20" fill="#4f2524"/>
<rect x="1134" y="567" width="1" height="18" fill="#a55c56"/>
<rect x="1139" y="555" width="1" height="38" fill="#49524d"/>
<rect x="1138" y="575" width="3" height="11" fill="#2c5a45"/>
<rect x="1139" y="576" width="1" height="9" fill="#72a18a"/>
<rect x="1144" y="558" width="1" height="18" fill="#49524d"/>
<rect x="1143" y="564" width="3" height="12" fill="#2c5a45"/>
<rect x="1144" y="565" width="1" height="10" fill="#72a18a"/>
<rect x="1149" y="543" width="1" height="23" fill="#49524d"/>
<rect x="1148" y="558" width="3" height="7" fill="#2c5a45"/>
<rect x="1149" y="559" width="1" height="5" fill="#72a18a"/>
<rect x="1153" y="539" width="1" height="30" fill="#49524d"/>
<rect x="1152" y="544" width="3" height="14" fill="#2c5a45"/>
<rect x="1153" y="545" width="1" height="12" fill="#72a18a"/>
<rect x="1158" y="542" width="1" height="19" fill="#574746"/>
<rect x="1157" y="544" width="3" height="5" fill="#4f2524"/>
<rect x="1158" y="545" width="1" height="3" fill="#a55c56"/>
<rect x="1163" y="526" width="1" height="26" fill="#49524d"/>
<rect x="1162" y="543" width="3" height="6" fill="#2c5a45"/>
<rect x="1163" y="544" width="1" height="4" fill="#72a18a"/>
<rect x="1168" y="524" width="1" height="24" fill="#49524d"/>
<rect x="1167" y="532" width="3" height="11" fill="#2c5a45"/>
<rect x="1168" y="533" width="1" height="9" fill="#72a18a"/>
<rect x="1173" y="519" width="1" height="25" fill="#49524d"/>
<rect x="1172" y="530" width="3" height="2" fill="#2c5a45"/>
<rect x="1177" y="482" width="1" height="56" fill="#49524d"/>
<rect x="1176" y="490" width="3" height="40" fill="#2c5a45"/>
<rect x="1177" y="491" width="1" height="38" fill="#72a18a"/>
<rect x="1182" y="461" width="1" height="47" fill="#574746"/>
<rect x="1181" y="490" width="3" height="9" fill="#4f2524"/>
<rect x="1182" y="491" width="1" height="7" fill="#a55c56"/>
<rect x="1187" y="483" width="1" height="38" fill="#574746"/>
<rect x="1186" y="499" width="3" height="5" fill="#4f2524"/>
<rect x="1187" y="500" width="1" height="3" fill="#a55c56"/>
</svg>
<div class="abs" style="left:1256px;top:0;width:62px;height:720px;background:#fff"></div>
<div class="abs" style="left:5px;top:688px;width:1313px;height:32px;background:#fff"></div>
<div class="abs" style="left:1255px;top:0;width:1px;height:720px;background:#3c3f44"></div>
<div class="abs" style="left:5px;top:687px;width:1313px;height:1px;background:#3c3f44"></div>
<div class="gl" style="top:59.0px">1.36600</div>
<div class="gl" style="top:102.0px">1.36400</div>
<div class="gl" style="top:144.0px">1.36200</div>
<div class="gl" style="top:187.0px">1.36000</div>
<div class="gl" style="top:230.0px">1.35800</div>
<div class="gl" style="top:273.0px">1.35600</div>
<div class="gl" style="top:316.0px">1.35400</div>
<div class="gl" style="top:359.0px">1.35200</div>
<div class="gl" style="top:402.0px">1.35000</div>
<div class="gl" style="top:446.0px">1.34800</div>
<div class="gl" style="top:489.0px">1.34600</div>
<div class="gl" style="top:531.0px">1.34400</div>
<div class="gl" style="top:575.0px">1.34200</div>
<div class="gl" style="top:618.0px">1.34000</div>
<div class="gl" style="top:658.0px">1.33820</div>
<div class="lbl red" style="top:49px">1.36635</div>
<div class="lbl red" style="top:233px">1.35771</div>
<div class="lbl red" style="top:267px">1.35614</div>
<div class="lbl red" style="top:360px">1.35184</div>
<div class="lbl red" style="top:405px">1.34976</div>
<div class="lbl red" style="top:471px">1.34669</div>
<div class="lbl blue" style="top:584px">1.34150</div>
<div class="lbl blue" style="top:628px">1.33945</div>
<div class="abs" style="left:1197px;top:494px;width:59px;height:19px;background:#d4533f;border-radius:3px 0 0 3px;color:#ffe3dc;font-weight:bold;font-size:11.3px;line-height:20.2px;text-indent:4.5px;white-space:nowrap">GBPUSD</div>
<div class="abs" style="left:1255px;top:494px;width:63px;height:35px;background:#d4533f;color:#ffe3dc;font-size:13px;white-space:nowrap"><div style="position:absolute;left:13px;top:2.5px;line-height:16px;font-weight:bold">1.34561</div><div style="position:absolute;left:12.5px;top:18px;line-height:16px;font-weight:bold;opacity:.92">08:25</div><div style="position:absolute;left:0;top:0;width:1px;height:19px;background:rgba(60,20,10,.25)"></div></div>
<div class="tl" style="left:100.0px">5</div>
<div class="tl" style="left:215.0px">6</div>
<div class="tl" style="left:315.0px">8</div>
<div class="tl" style="left:443.0px">10</div>
<div class="tl" style="left:558.0px">11</div>
<div class="tl" style="left:672.0px">12</div>
<div class="tl" style="left:787.0px">13</div>
<div class="tl" style="left:887.0px">15</div>
<div class="tl" style="left:1015.0px">17</div>
<div class="tl" style="left:1130.0px">18</div>
<div class="tl" style="left:-15.5px">4</div>
<div class="abs" style="left:1260px;top:5.5px;width:70px;height:30.5px;border:1px solid #e4e6ea;border-radius:6px;box-sizing:border-box;background:#fff"></div>
<div class="abs" style="left:1264.6px;top:13.3px;font-size:14.5px;line-height:16px;color:#1e2126;letter-spacing:-.3px;transform:scaleX(.9);transform-origin:0 0">USD</div>
<svg class="abs" style="left:1306px;top:17px" width="10" height="8" viewBox="0 0 10 8"><path d="M2.2 2.3 L5.2 5.3 L8.2 2.3" fill="none" stroke="#1e2126" stroke-width="1.7"/></svg>
<div class="abs" style="left:12px;top:8px;width:372px;height:26px;background:rgba(255,255,255,.8)"></div>
<div class="abs" style="left:464px;top:10px;width:442px;height:22px;background:rgba(255,255,255,.8)"></div>
<svg class="abs" style="left:14px;top:6px" width="30" height="28" viewBox="0 0 30 28">
<defs><clipPath id="cu"><circle cx="17.8" cy="9" r="6.6"/></clipPath><clipPath id="ck"><circle cx="9.9" cy="17.8" r="7.2"/></clipPath></defs>
<g clip-path="url(#cu)"><rect x="10" y="2" width="16" height="14" fill="#f4f0f2"/>
<rect x="10" y="3.2" width="16" height="1.6" fill="#b5525e"/><rect x="10" y="6.4" width="16" height="1.6" fill="#b5525e"/><rect x="10" y="9.6" width="16" height="1.6" fill="#b5525e"/><rect x="10" y="12.8" width="16" height="1.6" fill="#b5525e"/>
<rect x="10" y="2" width="8.5" height="7.5" fill="#4f8fd0"/></g>
<circle cx="9.9" cy="17.8" r="8.6" fill="#fff"/>
<g clip-path="url(#ck)"><rect x="2" y="10" width="16" height="16" fill="#262a4d"/>
<path d="M2 10 L18 26 M18 10 L2 26" stroke="#e9dde4" stroke-width="2.5"/><path d="M2 10 L18 26 M18 10 L2 26" stroke="#cf4a6a" stroke-width="0.9"/>
<path d="M9.9 10 V26 M2 17.8 H18" stroke="#efe3e8" stroke-width="3.8"/><path d="M9.9 10 V26 M2 17.8 H18" stroke="#dc4a6e" stroke-width="2.1"/></g>
</svg>
<div class="abs" style="left:398.5px;top:9px;width:49px;height:22px;border-radius:11px;background:linear-gradient(90deg,#e2f1ef 0,#daf3ee 30%,#e6eeee 47%,#fbdbe6 56%,#fbd7e4 100%)"></div>
<div class="abs" style="left:407px;top:15px;width:10px;height:10px;border-radius:5px;background:#189a7e"></div>
<div class="abs" style="left:425.2px;top:9.3px;width:18px;text-align:center;font-size:20.5px;line-height:22px;color:#8c1f52;-webkit-text-stroke:.35px #8c1f52">≈</div>
<div class="abs" style="left:43.72px;top:10px;font-size:18px;font-weight:normal;line-height:22px;color:#46484d;letter-spacing:0.374px;white-space:nowrap;transform:scaleX(1.0900);transform-origin:0 0;-webkit-text-stroke:.3px #46484d;">British</div>
<div class="abs" style="left:106.96px;top:10px;font-size:18px;font-weight:normal;line-height:22px;color:#46484d;letter-spacing:0.000px;white-space:nowrap;transform:scaleX(1.0408);transform-origin:0 0;-webkit-text-stroke:.3px #46484d;">Pound</div>
<div class="abs" style="left:169.79px;top:10px;font-size:18px;font-weight:normal;line-height:22px;color:#46484d;letter-spacing:0.000px;white-space:nowrap;transform:scaleX(1.0000);transform-origin:0 0;-webkit-text-stroke:.3px #46484d;">/</div>
<div class="abs" style="left:183.47px;top:10px;font-size:18px;font-weight:normal;line-height:22px;color:#46484d;letter-spacing:0.000px;white-space:nowrap;transform:scaleX(1.0271);transform-origin:0 0;-webkit-text-stroke:.3px #46484d;">U.S.</div>
<div class="abs" style="left:226.82px;top:10px;font-size:18px;font-weight:normal;line-height:22px;color:#46484d;letter-spacing:0.389px;white-space:nowrap;transform:scaleX(1.0900);transform-origin:0 0;-webkit-text-stroke:.3px #46484d;">Dollar</div>
<div class="abs" style="left:284.10px;top:10px;font-size:18px;font-weight:bold;line-height:22px;color:#46484d;letter-spacing:0.000px;white-space:nowrap;transform:scaleX(1.0000);transform-origin:0 0;-webkit-text-stroke:.3px #46484d;">·</div>
<div class="abs" style="left:295.25px;top:10px;font-size:18px;font-weight:normal;line-height:22px;color:#46484d;letter-spacing:0.000px;white-space:nowrap;transform:scaleX(1.0483);transform-origin:0 0;-webkit-text-stroke:.3px #46484d;">1h</div>
<div class="abs" style="left:320.20px;top:10px;font-size:18px;font-weight:bold;line-height:22px;color:#46484d;letter-spacing:0.000px;white-space:nowrap;transform:scaleX(1.0000);transform-origin:0 0;-webkit-text-stroke:.3px #46484d;">·</div>
<div class="abs" style="left:331.44px;top:10px;font-size:18px;font-weight:normal;line-height:22px;color:#46484d;letter-spacing:0.000px;white-space:nowrap;transform:scaleX(0.9397);transform-origin:0 0;-webkit-text-stroke:.3px #46484d;">FXCM</div>
<div class="abs" style="left:467.39px;top:12.5px;font-size:14.5px;font-weight:normal;line-height:17px;color:#4b2f31;letter-spacing:0.000px;white-space:nowrap;transform:scaleX(1.0834);transform-origin:0 0;-webkit-text-stroke:.2px;"><span style="color:#55585e">O</span>1.34582</div>
<div class="abs" style="left:545.00px;top:12.5px;font-size:14.5px;font-weight:normal;line-height:17px;color:#4b2f31;letter-spacing:0.000px;white-space:nowrap;transform:scaleX(1.0765);transform-origin:0 0;-webkit-text-stroke:.2px;"><span style="color:#55585e">H</span>1.34656</div>
<div class="abs" style="left:621.50px;top:12.5px;font-size:14.5px;font-weight:normal;line-height:17px;color:#4b2f31;letter-spacing:0.000px;white-space:nowrap;transform:scaleX(1.0781);transform-origin:0 0;-webkit-text-stroke:.2px;"><span style="color:#55585e">L</span>1.34481</div>
<div class="abs" style="left:695.31px;top:12.5px;font-size:14.5px;font-weight:normal;line-height:17px;color:#4b2f31;letter-spacing:0.000px;white-space:nowrap;transform:scaleX(1.0506);transform-origin:0 0;-webkit-text-stroke:.2px;"><span style="color:#55585e">C</span>1.34561</div>
<div class="abs" style="left:771.82px;top:12.5px;font-size:14.5px;font-weight:normal;line-height:17px;color:#4b2f31;letter-spacing:0.000px;white-space:nowrap;transform:scaleX(1.0456);transform-origin:0 0;-webkit-text-stroke:.2px;">−0.00021</div>
<div class="abs" style="left:842.03px;top:12.5px;font-size:14.5px;font-weight:normal;line-height:17px;color:#4b2f31;letter-spacing:0.000px;white-space:nowrap;transform:scaleX(1.0337);transform-origin:0 0;-webkit-text-stroke:.2px;">(−0.02%)</div>
<div class="abs" style="left:15px;top:40.3px;width:84px;height:42.7px;box-sizing:border-box;border:1px solid #a0595e;border-radius:7px;background:#fff"></div>
<div class="abs" style="left:136px;top:40.3px;width:84px;height:42.7px;box-sizing:border-box;border:1px solid #4b5d70;border-radius:7px;background:#fff"></div>
<div class="abs" style="left:29.64px;top:45.62px;font-size:13.5px;font-weight:bold;line-height:16px;color:#c04d58;letter-spacing:0.754px;white-space:nowrap;transform:scaleX(1.0900);transform-origin:0 0;">1.3456</div>
<div class="abs" style="left:78.36px;top:44.0px;font-size:13px;font-weight:bold;line-height:16px;color:#c04d58;letter-spacing:0.000px;white-space:nowrap;transform:scaleX(1.0000);transform-origin:0 0;">1</div>
<div class="abs" style="left:41.59px;top:63.6px;font-size:13px;font-weight:normal;line-height:16px;color:#b3525b;letter-spacing:0.000px;white-space:nowrap;transform:scaleX(0.9513);transform-origin:0 0;">SELL</div>
<div class="abs" style="left:151.24px;top:45.62px;font-size:13.5px;font-weight:bold;line-height:16px;color:#3f60a6;letter-spacing:0.791px;white-space:nowrap;transform:scaleX(1.0900);transform-origin:0 0;">1.3457</div>
<div class="abs" style="left:200.28px;top:44.0px;font-size:13px;font-weight:normal;line-height:16px;color:#3f60a6;letter-spacing:0.000px;white-space:nowrap;transform:scaleX(1.0000);transform-origin:0 0;">3</div>
<div class="abs" style="left:165.23px;top:63.6px;font-size:13px;font-weight:normal;line-height:16px;color:#4566a8;letter-spacing:0.000px;white-space:nowrap;transform:scaleX(0.9779);transform-origin:0 0;">BUY</div>
<div class="abs" style="left:108px;top:54.4px;width:20px;text-align:center;font-size:12px;line-height:15px;color:#111;background:#fff">1.2</div>
<svg class="abs" style="left:18px;top:648px" width="42" height="24" viewBox="0 0 42 24">
<path d="M2 3 H16.6 V21.2 H9.3 V12 H2 Z" fill="#1b1d22"/><circle cx="22.4" cy="6.3" r="3.2" fill="#1b1d22"/><path d="M30.8 3 H38.8 L31.5 21.2 H23.5 Z" fill="#1b1d22"/></svg>
<div class="abs" style="left:65.5px;top:645.3px;font-size:25px;font-weight:bold;line-height:30px;color:#1b1d22;letter-spacing:.52px;white-space:nowrap">TradingView</div>
<svg class="abs" style="left:1172px;top:655px" width="32" height="32" viewBox="0 0 32 32">
<path d="M 20.35 3.8 A 12.4 12.4 0 1 0 27.83 12.7" fill="none" stroke="#632e7a" stroke-width="1.6" stroke-linecap="round"/>
<path d="M18.7 9.1 L10.7 16.1 L15.1 15.8 L11.7 22.1 L20.3 14.6 L15.9 14.9 Z" fill="#8a35c0"/>
<circle cx="24.4" cy="6.7" r="3.05" fill="#cf4a58"/></svg>
<svg class="abs" style="left:1279px;top:695px" width="24" height="20" viewBox="0 0 24 20">
<path d="M7 3.2 H16.2 L20.05 10 L16.2 16.8 H7 L3.15 10 Z" fill="none" stroke="#17191d" stroke-width="1.4" stroke-linejoin="round"/><circle cx="11.6" cy="10" r="2.3" fill="none" stroke="#17191d" stroke-width="1.3"/></svg>
<div class="abs" style="left:0;top:0;width:5px;height:722px;background:linear-gradient(90deg,#dcdcdf 0,#dcdcdf 2px,#eaeaec 2.6px,#eaeaec 3.4px,#e0e0e3 4px,#e0e0e3 5px)"></div>
<div class="abs" style="left:0;top:720px;width:1318px;height:2px;background:linear-gradient(180deg,#f4f4f5 0,#f4f4f5 .8px,#e2e2e5 1px,#e2e2e5 2px)"></div>
</body></html>
